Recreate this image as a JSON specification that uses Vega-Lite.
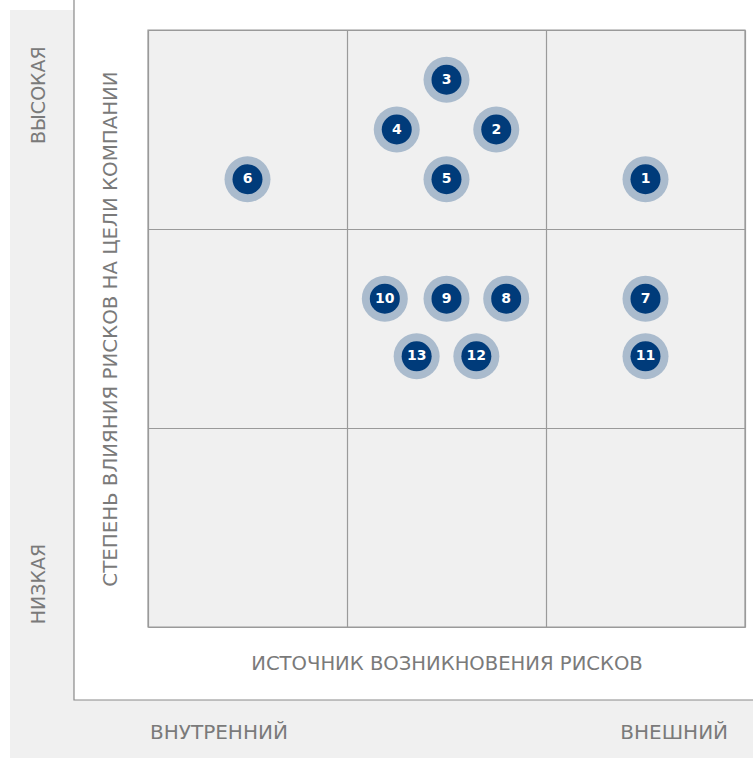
{
  "$schema": "https://vega.github.io/schema/vega-lite/v6.json",
  "width": 597,
  "height": 597,
  "autosize": {"type": "none"},
  "padding": {"left": 148, "top": 30, "right": 8, "bottom": 131},
  "background": "white",
  "config": {
    "view": {"stroke": null},
    "font": "DejaVu Sans"
  },
  "datasets": {
    "risks": [
      {"id": 1, "source": 2.5, "impact": 2.25},
      {"id": 2, "source": 1.75, "impact": 2.5},
      {"id": 3, "source": 1.5, "impact": 2.75},
      {"id": 4, "source": 1.25, "impact": 2.5},
      {"id": 5, "source": 1.5, "impact": 2.25},
      {"id": 6, "source": 0.5, "impact": 2.25},
      {"id": 7, "source": 2.5, "impact": 1.65},
      {"id": 8, "source": 1.8, "impact": 1.65},
      {"id": 9, "source": 1.5, "impact": 1.65},
      {"id": 10, "source": 1.19, "impact": 1.65},
      {"id": 11, "source": 2.5, "impact": 1.36},
      {"id": 12, "source": 1.65, "impact": 1.36},
      {"id": 13, "source": 1.35, "impact": 1.36}
    ],
    "one": [{}]
  },
  "layer": [
    {
      "data": {"name": "one"},
      "mark": {"type": "rect", "fill": "#f0f0f0", "clip": false},
      "encoding": {
        "x": {"datum": -0.6935, "type": "quantitative", "scale": {"domain": [0, 3], "nice": false, "zero": false},
          "axis": {"values": [0, 1, 2, 3], "grid": true, "gridColor": "#9a9a9a", "gridWidth": 1.2, "labels": false, "ticks": false, "domain": false, "zindex": 1,
            "title": "ИСТОЧНИК ВОЗНИКНОВЕНИЯ РИСКОВ", "titleFontSize": 19.6, "titleFontWeight": "normal", "titleColor": "#7a7a7a", "titlePadding": 27}},
        "x2": {"datum": 3.1},
        "y": {"datum": -0.7, "type": "quantitative", "scale": {"domain": [0, 3], "nice": false, "zero": false},
          "axis": {"values": [0, 1, 2, 3], "grid": true, "gridColor": "#9a9a9a", "gridWidth": 1.2, "labels": false, "ticks": false, "domain": false, "zindex": 1,
            "title": "СТЕПЕНЬ ВЛИЯНИЯ РИСКОВ НА ЦЕЛИ КОМПАНИИ", "titleFontSize": 19.8, "titleFontWeight": "normal", "titleColor": "#7a7a7a", "titlePadding": 28}},
        "y2": {"datum": 3.1005}
      }
    },
    {
      "data": {"name": "one"},
      "mark": {"type": "rect", "fill": "white", "stroke": "#8a8a8a", "strokeWidth": 1.2, "clip": false},
      "encoding": {
        "x": {"datum": -0.3719, "type": "quantitative"},
        "x2": {"datum": 3.2},
        "y": {"datum": -0.3668, "type": "quantitative"},
        "y2": {"datum": 3.25}
      }
    },
    {
      "data": {"name": "one"},
      "mark": {"type": "rect", "fill": "#f0f0f0", "stroke": "#9a9a9a", "strokeWidth": 1.2},
      "encoding": {
        "x": {"datum": 0, "type": "quantitative"},
        "x2": {"datum": 3},
        "y": {"datum": 0, "type": "quantitative"},
        "y2": {"datum": 3}
      }
    },
    {
      "data": {"name": "one"},
      "mark": {"type": "text", "angle": 270, "align": "center", "baseline": "middle", "fontSize": 19, "color": "#7a7a7a", "clip": false},
      "encoding": {
        "x": {"datum": -0.5477, "type": "quantitative"},
        "y": {"datum": 2.673, "type": "quantitative"},
        "text": {"value": "ВЫСОКАЯ"}
      }
    },
    {
      "data": {"name": "one"},
      "mark": {"type": "text", "angle": 270, "align": "center", "baseline": "middle", "fontSize": 19, "color": "#7a7a7a", "clip": false},
      "encoding": {
        "x": {"datum": -0.5477, "type": "quantitative"},
        "y": {"datum": 0.216, "type": "quantitative"},
        "text": {"value": "НИЗКАЯ"}
      }
    },
    {
      "data": {"name": "one"},
      "mark": {"type": "text", "align": "left", "baseline": "middle", "fontSize": 20, "color": "#7a7a7a", "clip": false},
      "encoding": {
        "x": {"datum": 0.01, "type": "quantitative"},
        "y": {"datum": -0.533, "type": "quantitative"},
        "text": {"value": "ВНУТРЕННИЙ"}
      }
    },
    {
      "data": {"name": "one"},
      "mark": {"type": "text", "align": "right", "baseline": "middle", "fontSize": 20, "color": "#7a7a7a", "clip": false},
      "encoding": {
        "x": {"datum": 2.915, "type": "quantitative"},
        "y": {"datum": -0.533, "type": "quantitative"},
        "text": {"value": "ВНЕШНИЙ"}
      }
    },
    {
      "data": {"name": "risks"},
      "mark": {"type": "point", "filled": true, "shape": "circle", "size": 2116, "color": "#aabbcd", "opacity": 1},
      "encoding": {
        "x": {"field": "source", "type": "quantitative"},
        "y": {"field": "impact", "type": "quantitative"}
      }
    },
    {
      "data": {"name": "risks"},
      "mark": {"type": "point", "filled": true, "shape": "circle", "size": 900, "color": "#003b7a", "opacity": 1},
      "encoding": {
        "x": {"field": "source", "type": "quantitative"},
        "y": {"field": "impact", "type": "quantitative"}
      }
    },
    {
      "data": {"name": "risks"},
      "mark": {"type": "text", "color": "white", "fontSize": 14, "fontWeight": "bold", "align": "center", "baseline": "middle"},
      "encoding": {
        "x": {"field": "source", "type": "quantitative"},
        "y": {"field": "impact", "type": "quantitative"},
        "text": {"field": "id", "type": "nominal"}
      }
    }
  ]
}
